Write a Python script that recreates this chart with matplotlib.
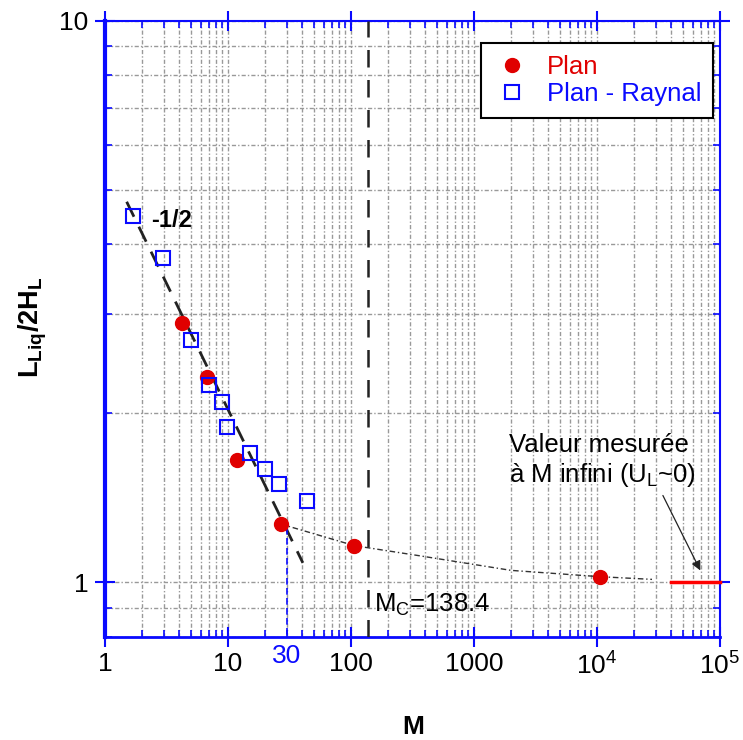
import matplotlib
matplotlib.use('Agg')
import matplotlib.pyplot as plt
from matplotlib.ticker import FixedLocator, FixedFormatter, LogLocator, NullFormatter

plt.rcParams['font.family'] = ['Liberation Sans', 'DejaVu Sans']
plt.rcParams['mathtext.fontset'] = 'custom'
plt.rcParams['mathtext.rm'] = 'Liberation Sans'
plt.rcParams['mathtext.it'] = 'Liberation Sans:italic'
plt.rcParams['mathtext.bf'] = 'Liberation Sans:bold'

# ---- data ----
plan_M = [4.24, 6.76, 11.8, 26.8, 106.6, 10670]
plan_L = [2.89, 2.32, 1.65, 1.27, 1.162, 1.023]
raynal_M = [1.68, 2.97, 4.98, 6.97, 8.94, 9.81, 15.0, 20.1, 25.9, 43.7]
raynal_L = [4.49, 3.78, 2.70, 2.245, 2.09, 1.888, 1.70, 1.59, 1.494, 1.396]
slope_M = [1.50, 40.6]
slope_L = [4.76, 1.083]
fit_M = [26.8, 106.6, 359, 2000, 10670, 28000]
fit_L = [1.27, 1.162, 1.115, 1.05, 1.023, 1.012]
Mc = 138.4
Minf_M = [4.0e4, 1.0e5]
Minf_L = [1.0, 1.0]
mark30_M = [30, 30]
mark30_L = [1.25, 0.8]
x_ticks = [1, 10, 100, 1000, 1e4, 1e5]
x_ticklabels = ['1', '10', '100', '1000', r'$\mathregular{10^4}$', r'$\mathregular{10^5}$']
y_ticks = [1, 10]
y_ticklabels = ['1', '10']

BLUE = '#0a0aff'
RED = '#e00000'

fig = plt.figure(figsize=(7.43, 7.40), dpi=100)
ax = fig.add_axes([105/743, 1-636.7/740, (720-105)/743, (636.7-20.7)/740])
ax.set_xscale('log')
ax.set_yscale('log')
ax.set_xlim(1, 1e5)
ax.set_ylim(0.8, 10)

ax.xaxis.set_major_locator(FixedLocator(x_ticks))
ax.xaxis.set_major_formatter(FixedFormatter(x_ticklabels))
ax.yaxis.set_major_locator(FixedLocator(y_ticks))
ax.yaxis.set_major_formatter(FixedFormatter(y_ticklabels))
ax.xaxis.set_minor_locator(LogLocator(base=10, subs=range(2, 10), numticks=20))
ax.yaxis.set_minor_locator(LogLocator(base=10, subs=range(2, 10), numticks=20))
ax.xaxis.set_minor_formatter(NullFormatter())
ax.yaxis.set_minor_formatter(NullFormatter())

ax.grid(True, which='both', color='#999999', linestyle=(0, (3, 1.5, 1, 1.5)), linewidth=1.0)
ax.set_axisbelow(True)

for side, lw in [('left', 3), ('bottom', 2), ('top', 1.5), ('right', 1.5)]:
    ax.spines[side].set_color(BLUE)
    ax.spines[side].set_linewidth(lw)

ax.tick_params(which='major', direction='inout', length=14, width=1.5, color=BLUE,
               top=True, right=True, labelsize=19)
ax.tick_params(which='minor', direction='in', length=5, width=1.2, color=BLUE,
               top=True, right=True)
ax.tick_params(axis='x', which='major', pad=4)
ax.tick_params(axis='y', which='major', pad=5)

# lines
ax.plot(slope_M, slope_L, color='#222222', ls=(0, (6, 4)), lw=2, zorder=3)
ax.plot(fit_M, fit_L, color='#333333', ls=(0, (4, 2, 1, 2)), lw=1, zorder=3)
ax.axvline(Mc, color='#222222', ls=(0, (7, 5)), lw=1.8, zorder=3)
ax.plot(mark30_M, mark30_L, color=BLUE, ls=(0, (4, 2)), lw=1.2, zorder=3)
ax.plot(Minf_M, Minf_L, color='#ff0000', lw=2.5, zorder=4, clip_on=False)

# markers
ax.plot(plan_M, plan_L, 'o', color=RED, ms=10, label='Plan', zorder=5)
ax.plot(raynal_M, raynal_L, 's', mfc='none', mec=BLUE, mew=1.5, ms=10,
        label='Plan - Raynal', zorder=5)

leg = ax.legend(loc='upper right', bbox_to_anchor=(713/743, 1-43/740),
                bbox_transform=fig.transFigure, borderaxespad=0, frameon=True,
                fancybox=False, edgecolor='black', framealpha=1, fontsize=18.5,
                handletextpad=0.6, borderpad=0.45, labelspacing=0.15, handlelength=1.5)
leg.get_frame().set_linewidth(1.5)
for t, c in zip(leg.get_texts(), [RED, BLUE]):
    t.set_color(c)

# annotations
ax.text(2.39, 4.40, '-1/2', fontsize=17, fontweight='bold', va='center', ha='left')
ax.text(155, 0.886, r'M$_{\mathregular{C}}$=138.4', fontsize=18.5, va='baseline', ha='left')
ax.text(1928, 1.708, 'Valeur mesurée', fontsize=18.5, va='baseline', ha='left')
ax.text(1928, 1.511, r'à M infini (U$_{\mathregular{L}}$~0)', fontsize=18.5, va='baseline', ha='left')
ax.annotate('', xy=(70800, 1.039), xytext=(33550, 1.442),
            arrowprops=dict(arrowstyle='-|>', color='#222222', lw=0.9, mutation_scale=14))
ax.text(30, -0.012, '30', color=BLUE, fontsize=19, ha='center', va='top',
        transform=ax.get_xaxis_transform())

fig.text(413/743, 1-727/740, 'M', fontsize=19, fontweight='bold', ha='center', va='center')
fig.text(33/743, 1-327/740, r'$\mathbf{L_{Liq}/2H_L}$', fontsize=19.5, rotation=90,
         ha='center', va='center')

fig.savefig('out.png', dpi=100)
